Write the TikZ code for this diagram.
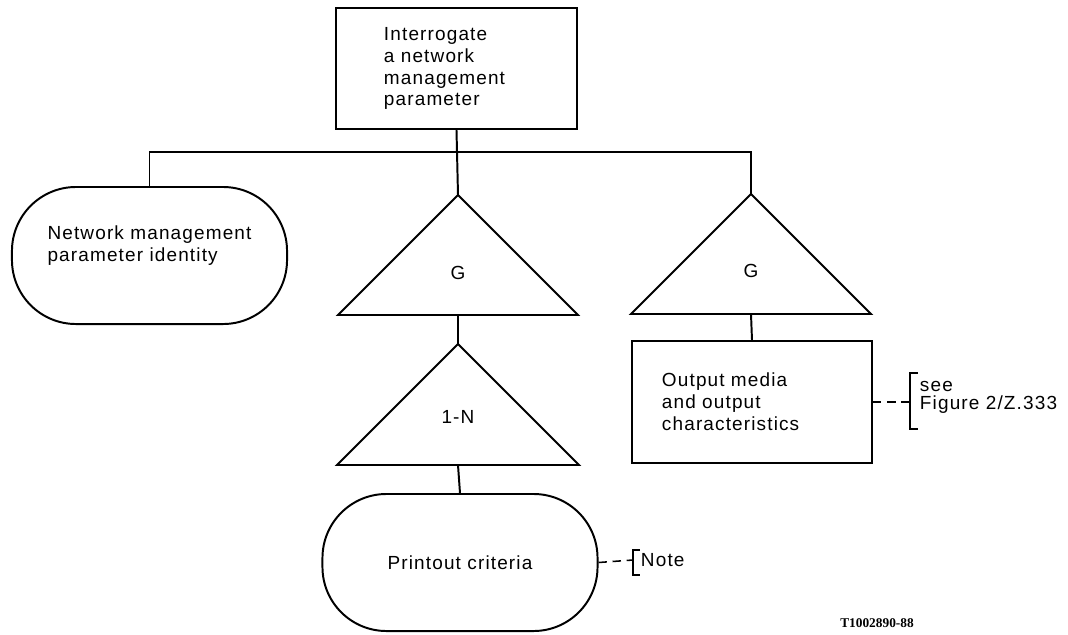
\documentclass[tikz,border=0pt]{standalone}
\usepackage{fontspec}
\setmainfont{Liberation Sans}[LetterSpace=6]
\newfontfamily\tagfont{Liberation Serif}
\begin{document}
\begin{tikzpicture}[x=0.025cm,y=-0.025cm,line width=1.4pt,
        font=\fontsize{13.5}{15.6}\selectfont,
        box/.style={draw,rectangle,align=left,inner ysep=0pt},
        terminal/.style={draw,rectangle,rounded corners=1.6cm,minimum width=6.875cm,minimum height=3.425cm,inner sep=0pt},
        tri/.style={draw,line join=miter},
        leader/.style={line width=1.1pt,dash pattern=on 6pt off 4pt},
        ]
        \useasboundingbox (0,0) rectangle (1068,634);
        \node[box,text width=3.625cm,inner xsep=1.2cm,minimum height=3.025cm] (ask) at (456.5,68.5) {Interrogate\\a network\\management\\parameter};
        \node[terminal,align=left,text depth=0.6cm] (ident) at (149.5,255.5) {Network management\\parameter identity};
        \coordinate (g1top) at (458,195);
        \coordinate (g1bot) at (458,315);
        \draw[tri] (g1top) -- ++(120,120) -- ++(-240,0) -- cycle;
        \node (g1) at (458,273) {G};
        \coordinate (g2top) at (751,194);
        \coordinate (g2bot) at (751,314);
        \draw[tri] (g2top) -- ++(120,120) -- ++(-240,0) -- cycle;
        \node (g2) at (751,271) {G};
        \coordinate (n1top) at (458,344);
        \coordinate (n1bot) at (458,465);
        \draw[tri] (n1top) -- ++(121,121) -- ++(-242,0) -- cycle;
        \node (n1) at (458,417) {1-N};
        \node[terminal] (crit) at (460,562.5) {Printout criteria};
        \node[box,text width=4.5cm,inner xsep=0.75cm,minimum height=3.05cm] (media) at (752,402) {Output media\\and output\\characteristics};
        \draw (ask.south) -- (g1top);
        \draw (ident.north) -- ++(0,-34) -| (g2top);
        \draw (g1bot) -- (n1top);
        \draw (n1bot) -- (crit.north);
        \draw (g2bot) -- (media.north);
        \coordinate (seebrk) at (910,402);
        \draw[leader] (media.east) -- (seebrk);
        \draw ([shift={(8,-29)}]seebrk) -- ++(-8,0) -- ++(0,56) -- ++(8,0);
        \node[anchor=west,align=left,inner sep=0pt,font=\fontsize{13.5}{13}\selectfont] (see) at (919,397) {see\\Figure 2/Z.333};
        \coordinate (notebrk) at (633,560);
        \draw[leader] (crit.east) -- (notebrk);
        \draw ([shift={(7,-10)}]notebrk) -- ++(-7,0) -- ++(0,25) -- ++(7,0);
        \node[anchor=west,inner sep=0pt] (note) at (640,560) {Note};
        \node[font=\fontsize{9.5}{10}\selectfont\tagfont\bfseries] (tag) at (877,623) {T1002890-88};
\end{tikzpicture}
\end{document}
